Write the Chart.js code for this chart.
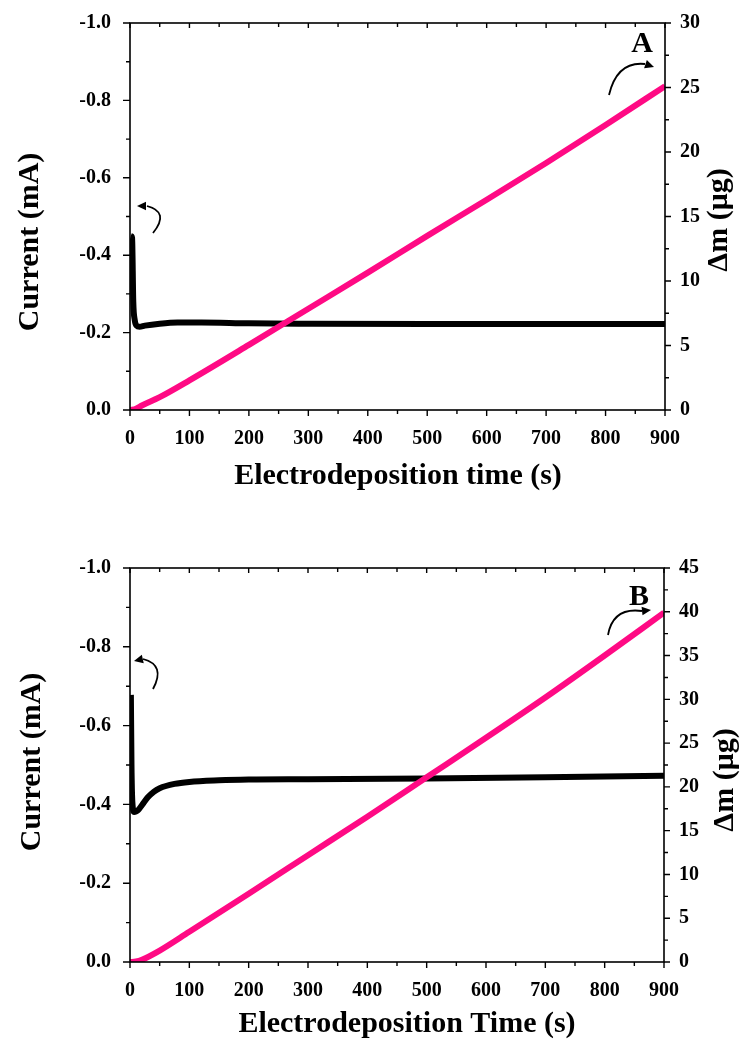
<!DOCTYPE html>
<html>
<head>
<meta charset="utf-8">
<script src="https://cdn.jsdelivr.net/npm/chart.js@4.4.0/dist/chart.umd.min.js"></script>
<style>
    html, body { margin: 0; padding: 0; background: #fff; }
    .panel { position: absolute; left: 0; width: 742px; height: 524px; }
    #wrapA { top: 0; }
    #wrapB { top: 524px; }
</style>
</head>
<body>
<div class="panel" id="wrapA"><canvas id="chartA" width="742" height="524"></canvas></div>
<div class="panel" id="wrapB"><canvas id="chartB" width="742" height="524"></canvas></div>
<script>
// Panel A data
const timeCurrentA = [1.5, 3.5, 5.5, 8, 11, 16, 25, 50, 80, 120, 200, 300, 500, 700, 900];
const currentA = [-0.45, -0.445, -0.28, -0.232, -0.218, -0.215, -0.218, -0.223, -0.226, -0.226, -0.224, -0.223, -0.222, -0.222, -0.222];
const timeMassA = [0, 10, 20, 50, 100, 200, 300, 400, 500, 600, 700, 800, 900];
const massA = [0, 0.1, 0.35, 1.0, 2.3, 5.05, 7.85, 10.65, 13.5, 16.3, 19.15, 22.1, 25.1];

// Panel B data
const timeCurrentB = [1.5, 2.5, 4, 7, 10, 14, 20, 30, 40, 50, 75, 100, 150, 200, 300, 500, 700, 900];
const currentB = [-0.678, -0.5, -0.405, -0.381, -0.382, -0.386, -0.398, -0.418, -0.432, -0.441, -0.452, -0.457, -0.461, -0.463, -0.464, -0.466, -0.469, -0.473];
const timeMassB = [0, 10, 20, 50, 100, 200, 300, 400, 500, 600, 700, 800, 900];
const massB = [0, 0.05, 0.25, 1.3, 3.45, 7.8, 12.2, 16.6, 21.1, 25.6, 30.2, 35.0, 39.9];

const PINK = '#ff0a84';
const FONT = "'Liberation Serif', 'Times New Roman', serif";

Chart.defaults.font.family = FONT;
Chart.defaults.font.weight = 'bold';
Chart.defaults.color = '#000';

function toPoints(xs, ys) {
    return xs.map((x, i) => ({ x: x, y: ys[i] }));
}

// Frame + tick marks (major from the scale, minor halfway between)
const framePlugin = {
    id: 'frame',
    afterDatasetsDraw(chart) {
        const { ctx, chartArea: a, scales } = chart;
        ctx.save();
        ctx.strokeStyle = '#000';
        ctx.lineWidth = 1.6;
        ctx.strokeRect(a.left, a.top, a.right - a.left, a.bottom - a.top);
        ctx.lineWidth = 1.4;
        ctx.beginPath();
        const each = (scale, fn) => {
            const t = scale.ticks.map(k => k.value);
            t.forEach((v, i) => {
                fn(scale.getPixelForValue(v), true);
                if (i < t.length - 1) fn(scale.getPixelForValue((v + t[i + 1]) / 2), false);
            });
        };
        each(scales.x, (px, major) => {
            ctx.moveTo(px, a.bottom); ctx.lineTo(px, a.bottom + (major ? 6 : 4));
            ctx.moveTo(px, a.top); ctx.lineTo(px, a.top + (major ? 5 : 4));
        });
        each(scales.y, (py, major) => {
            ctx.moveTo(a.left, py); ctx.lineTo(a.left - (major ? 7 : 4), py);
        });
        each(scales.y1, (py, major) => {
            ctx.moveTo(a.right, py); ctx.lineTo(a.right + (major ? 6 : 4), py);
        });
        ctx.stroke();
        ctx.restore();
    }
};

// Axis titles, panel letter and curved arrows
const notesPlugin = {
    id: 'notes',
    afterDraw(chart, args, o) {
        const ctx = chart.ctx;
        ctx.save();
        ctx.fillStyle = '#000';
        ctx.font = 'bold 30px ' + FONT;
        ctx.textAlign = 'center';
        ctx.textBaseline = 'middle';
        ctx.fillText(o.xTitle, o.xTitlePos[0], o.xTitlePos[1]);
        [[o.yTitle, o.yTitlePos], [o.y1Title, o.y1TitlePos]].forEach(([txt, p]) => {
            ctx.save();
            ctx.translate(p[0], p[1]);
            ctx.rotate(-Math.PI / 2);
            ctx.fillText(txt, 0, 0);
            ctx.restore();
        });
        ctx.fillText(o.letter, o.letterPos[0], o.letterPos[1]);

        ctx.strokeStyle = '#000';
        ctx.lineWidth = 1.8;
        o.arrows.forEach(ar => {
            const [s, c, e, tip] = ar;
            ctx.beginPath();
            ctx.moveTo(s[0], s[1]);
            ctx.quadraticCurveTo(c[0], c[1], e[0], e[1]);
            ctx.stroke();
            const ang = Math.atan2(tip[1] - e[1], tip[0] - e[0]);
            ctx.beginPath();
            ctx.moveTo(tip[0], tip[1]);
            ctx.lineTo(tip[0] - 10 * Math.cos(ang - 0.45), tip[1] - 10 * Math.sin(ang - 0.45));
            ctx.lineTo(tip[0] - 10 * Math.cos(ang + 0.45), tip[1] - 10 * Math.sin(ang + 0.45));
            ctx.closePath();
            ctx.fill();
        });
        ctx.restore();
    }
};

function makeChart(id, cfg) {
    const tickFont = { family: FONT, size: 20, weight: 'bold' };
    return new Chart(document.getElementById(id), {
        type: 'line',
        data: {
            datasets: [{
                label: 'mass',
                data: toPoints(cfg.timeMass, cfg.mass),
                yAxisID: 'y1',
                borderColor: PINK,
                borderWidth: 6,
                pointRadius: 0,
                cubicInterpolationMode: 'monotone'
            }, {
                label: 'current',
                data: toPoints(cfg.timeCurrent, cfg.current),
                yAxisID: 'y',
                borderColor: '#000',
                borderWidth: 6,
                pointRadius: 0,
                cubicInterpolationMode: 'monotone'
            }]
        },
        options: {
            responsive: false,
            animation: false,
            layout: { padding: { top: cfg.top, left: 0, right: 0, bottom: 0 } },
            plugins: { legend: { display: false }, tooltip: { enabled: false }, notes: cfg.notes },
            scales: {
                x: {
                    type: 'linear', min: 0, max: 900,
                    grid: { display: false }, border: { display: false },
                    ticks: { stepSize: 100, font: tickFont, padding: 9, maxRotation: 0 },
                    afterFit: s => { s.height = 524 - cfg.bottom; }
                },
                y: {
                    position: 'left', min: -1, max: 0, reverse: true,
                    grid: { display: false }, border: { display: false },
                    ticks: { stepSize: 0.2, font: tickFont, padding: 11, callback: v => v.toFixed(1) },
                    afterFit: s => { s.width = 130; }
                },
                y1: {
                    position: 'right', min: 0, max: cfg.massMax,
                    grid: { display: false }, border: { display: false },
                    ticks: { stepSize: 5, font: tickFont, padding: 7 },
                    afterFit: s => { s.width = 742 - cfg.right; }
                }
            }
        },
        plugins: [framePlugin, notesPlugin]
    });
}

makeChart('chartA', {
    timeCurrent: timeCurrentA, current: currentA,
    timeMass: timeMassA, mass: massA,
    massMax: 30, top: 17, bottom: 410, right: 665,
    notes: {
        xTitle: 'Electrodeposition time (s)', xTitlePos: [398, 476],
        yTitle: 'Current (mA)', yTitlePos: [30, 242],
        y1Title: 'Δm (μg)', y1TitlePos: [719, 220],
        letter: 'A', letterPos: [642, 44],
        arrows: [
            [[153, 233], [170, 212], [147, 206], [137, 206]],
            [[609, 95], [617, 61], [645, 64], [654, 67]]
        ]
    }
});

makeChart('chartB', {
    timeCurrent: timeCurrentB, current: currentB,
    timeMass: timeMassB, mass: massB,
    massMax: 45, top: 44, bottom: 438, right: 664,
    notes: {
        xTitle: 'Electrodeposition Time (s)', xTitlePos: [407, 500],
        yTitle: 'Current (mA)', yTitlePos: [32, 238],
        y1Title: 'Δm (μg)', y1TitlePos: [725, 256],
        letter: 'B', letterPos: [639, 73],
        arrows: [
            [[153, 165], [166, 141], [143, 135], [134, 137]],
            [[608, 111], [613, 83], [642, 87], [651, 86]]
        ]
    }
});
</script>
</body>
</html>
